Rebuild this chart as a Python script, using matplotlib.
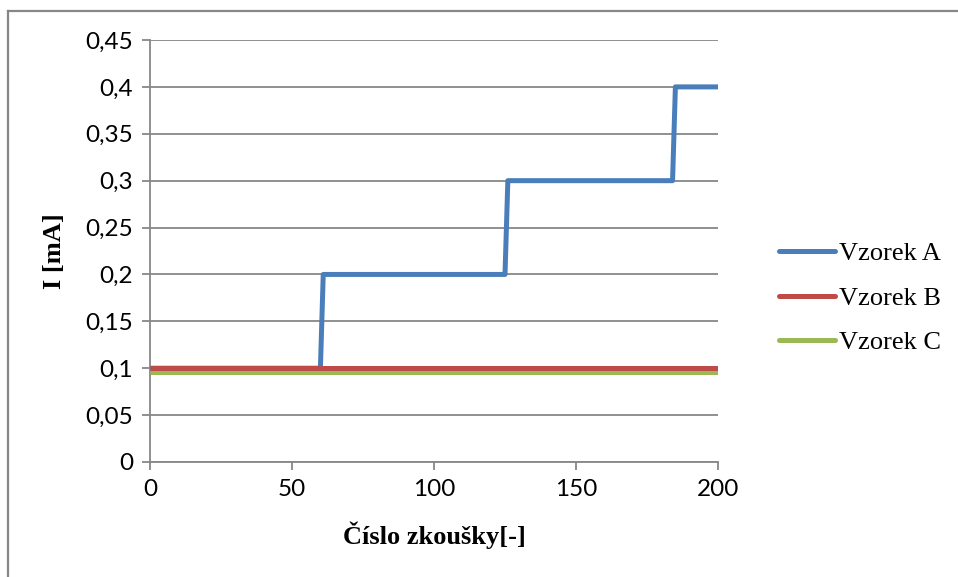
import matplotlib
matplotlib.use("Agg")
import matplotlib.pyplot as plt
from matplotlib.lines import Line2D
from matplotlib.ticker import FuncFormatter

# measured current per trial
trial_a = [0, 60, 61, 125, 126, 184, 185, 200]
current_a = [0.1, 0.1, 0.2, 0.2, 0.3, 0.3, 0.4, 0.4]
trial_b = [0, 200]
current_b = [0.1, 0.1]
trial_c = [0, 200]
current_c = [0.096, 0.096]

series_names = ["Vzorek A", "Vzorek B", "Vzorek C"]
colors = ["#4A7EBB", "#BE4B48", "#98B954"]
x_ticks = [0, 50, 100, 150, 200]
y_ticks = [0, 0.05, 0.1, 0.15, 0.2, 0.25, 0.3, 0.35, 0.4, 0.45]

W, H = 958, 577
fig = plt.figure(figsize=(W / 100, H / 100), dpi=100)
ax = fig.add_axes([150 / W, (H - 462) / H, 568 / W, 422 / H])

grid_col = "#878787"

# A underneath, then C, with B on top
ax.plot(trial_a, current_a, color=colors[0], lw=3.6, solid_capstyle="round",
        solid_joinstyle="round", zorder=3)
ax.plot(trial_c, current_c, color=colors[2], lw=3.6, solid_capstyle="butt", zorder=4)
ax.plot(trial_b, current_b, color=colors[1], lw=3.6, solid_capstyle="butt", zorder=5)

ax.set_xlim(0, 200)
ax.set_ylim(0, 0.45)
ax.set_xticks(x_ticks)
ax.set_yticks(y_ticks)
ax.yaxis.set_major_formatter(FuncFormatter(lambda v, p: ("%g" % round(v, 2)).replace(".", ",")))

ax.grid(axis="y", color=grid_col, lw=1.3)
ax.set_axisbelow(True)
for s in ["top", "right"]:
    ax.spines[s].set_visible(False)
for s in ["left", "bottom"]:
    ax.spines[s].set_color(grid_col)
    ax.spines[s].set_linewidth(1.3)
ax.tick_params(direction="out", length=6, width=1.3, color=grid_col,
               labelsize=17.5, pad=6)
for lab in ax.get_xticklabels() + ax.get_yticklabels():
    lab.set_fontfamily("Lato")

ax.set_xlabel("Číslo zkoušky[-]", family="Liberation Serif", fontweight="bold",
              fontsize=19, labelpad=16)
ax.set_ylabel("I [mA]", family="Liberation Serif", fontweight="bold",
              fontsize=19, labelpad=14)

handles = [Line2D([], [], color=c, lw=3.6, solid_capstyle="round") for c in colors]
fig.legend(handles, series_names, loc="center left",
           bbox_to_anchor=(766 / W, (H - 298) / H), frameon=False,
           prop={"family": "Liberation Serif", "size": 19},
           handlelength=2.1, handletextpad=0.15, labelspacing=0.8, borderpad=0)

# outer chart frame (only top and left edges visible)
fig.add_artist(Line2D([8 / W, 8 / W], [0, (H - 11) / H], color=grid_col, lw=1.6))
fig.add_artist(Line2D([8 / W, 1], [(H - 11) / H, (H - 11) / H], color=grid_col, lw=1.6))

fig.savefig("out.png", dpi=100)
